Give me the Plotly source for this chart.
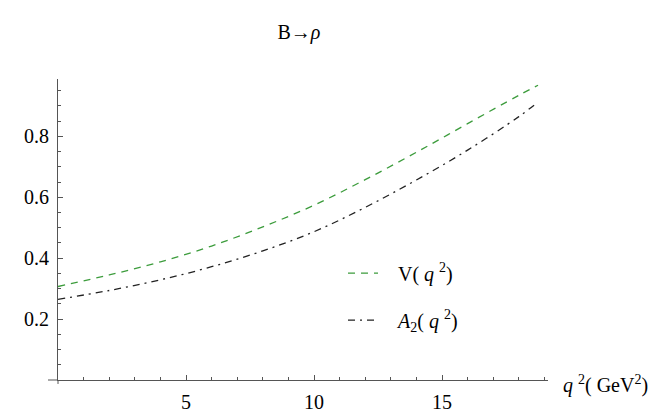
import plotly.graph_objects as go

# q^2 values (GeV^2)
q2 = [0, 2, 4, 6, 8, 10, 12, 14, 16, 18, 18.75]
# form factors
V_vals = [0.307, 0.345, 0.388, 0.440, 0.503, 0.574, 0.658, 0.748, 0.842, 0.935, 0.968]
A2_vals = [0.265, 0.294, 0.329, 0.372, 0.424, 0.487, 0.567, 0.657, 0.755, 0.865, 0.913]

x_ticks = [5, 10, 15]
y_ticks = [0.2, 0.4, 0.6, 0.8]

FONT = "Liberation Serif"
FS = 20
AXIS_COLOR = "#555555"
PAD = "\u00a0\u00a0\u00a0"

fig = go.Figure()
fig.add_trace(go.Scatter(
    x=q2, y=V_vals, mode="lines", line_shape="spline",
    name=PAD + "V( <i>q</i> <sup>2</sup>)", legendgroup="a",
    line=dict(color="#3c9c3c", width=1.3, dash="7px,6px"),
))
fig.add_trace(go.Scatter(
    x=q2, y=A2_vals, mode="lines", line_shape="spline",
    name=PAD + "<i>A</i><sub>2</sub>( <i>q</i> <sup>2</sup>)", legendgroup="b",
    line=dict(color="#222222", width=1.3, dash="7px,5px,2px,5px"),
))

axis_common = dict(
    showgrid=False, zeroline=False, showline=True, linecolor=AXIS_COLOR,
    linewidth=1, ticks="inside", ticklen=5, tickcolor=AXIS_COLOR,
    tickfont=dict(family=FONT, size=FS, color="black"),
)

fig.update_layout(
    width=664, height=417,
    margin=dict(l=50, r=124, t=71, b=42),
    paper_bgcolor="white", plot_bgcolor="white",
    title=dict(text="B→<i>ρ</i>", x=291 / 664, xref="container", xanchor="center",
               y=1 - 24 / 417, yref="container", yanchor="middle",
               font=dict(family=FONT, size=FS, color="black")),
    xaxis=dict(range=[0, 19.14], tickvals=x_ticks, ticklabelstandoff=4,
               minor=dict(dtick=1, tick0=0, ticks="inside", ticklen=3, tickcolor=AXIS_COLOR),
               **axis_common),
    yaxis=dict(range=[0, 0.9886], tickvals=y_ticks, tickformat=".1f", ticklabelstandoff=4,
               minor=dict(dtick=0.05, tick0=0, ticks="inside", ticklen=3, tickcolor=AXIS_COLOR),
               **axis_common),
    legend=dict(x=(335 - 50) / 490, y=0.42, xanchor="left", yanchor="top",
                font=dict(family=FONT, size=FS, color="black"),
                tracegroupgap=18, bgcolor="rgba(0,0,0,0)"),
    annotations=[dict(text="<i>q</i> <sup>2</sup>( GeV<sup>2</sup>)", xref="paper", yref="paper",
                      x=(553 - 50) / 490, y=(417 - 42 - 380) / 304, xanchor="left", yanchor="middle",
                      showarrow=False, font=dict(family=FONT, size=FS, color="black"))],
    shapes=[
        dict(type="line", xref="paper", yref="paper", x0=-10 / 490, x1=0, y0=0, y1=0,
             line=dict(color=AXIS_COLOR, width=1)),
        dict(type="line", xref="paper", yref="paper", x0=0, x1=0, y0=-4 / 304, y1=0,
             line=dict(color=AXIS_COLOR, width=1)),
    ],
)

fig.write_html("out.html")
